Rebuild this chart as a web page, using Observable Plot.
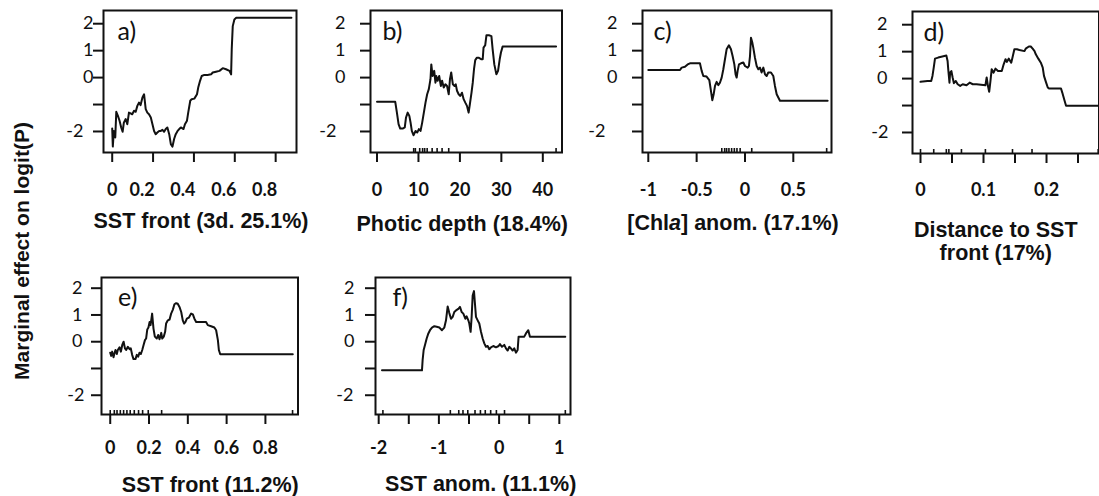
<!DOCTYPE html>
<html><head><meta charset="utf-8">
<script src="https://cdn.jsdelivr.net/npm/d3@7"></script>
<script src="https://cdn.jsdelivr.net/npm/@observablehq/plot@0.6"></script>
<style>
body{margin:0;background:#fff;overflow:hidden}
#chart{position:relative;width:1099px;height:496px;overflow:hidden;background:#fff}
#chart svg{position:absolute;overflow:visible}
#ytitle{position:absolute;left:22px;top:251px;transform:translate(-50%,-50%) rotate(-90deg);font-family:"Liberation Sans",Arial,sans-serif;font-weight:bold;font-size:21px;color:#111;white-space:nowrap}
</style></head><body><div id="chart"><div id="ytitle">Marginal effect on logit(P)</div></div>
<script>
// ---------------- data ----------------
const yTicks = [-2, -1, 0, 1, 2];
const yTickLabels = ["-2", "", "0", "1", "2"];

const panelLetters = ["a)", "b)", "c)", "d)", "e)", "f)"];
const xTitles = ["SST front (3d. 25.1%)", "Photic depth (18.4%)", "[Chla] anom. (17.1%)",
  "Distance to SST\nfront (17%)", "SST front (11.2%)", "SST anom. (11.1%)"];

const aTicks = [0, 0.2, 0.4, 0.6, 0.8];
const aTickLabels = ["0", "0.2", "0.4", "0.6", "0.8"];
const bTicks = [0, 10, 20, 30, 40];
const bTickLabels = ["0", "10", "20", "30", "40"];
const cTicks = [-1, -0.5, 0, 0.5];
const cTickLabels = ["-1", "-0.5", "0", "0.5"];
const dTicks = [0, 0.05, 0.1, 0.15, 0.2, 0.25];
const dTickLabels = ["0", "", "0.1", "", "0.2", ""];
const eTicks = [0, 0.2, 0.4, 0.6, 0.8];
const eTickLabels = ["0", "0.2", "0.4", "0.6", "0.8"];
const fTicks = [-2, -1.5, -1, -0.5, 0, 0.5, 1];
const fTickLabels = ["-2", "", "-1", "", "0", "", "1"];

const aLine = [[0,-1.89],[0.003,-2.56],[0.008,-1.98],[0.015,-2.22],[0.02,-1.27],[0.028,-1.42],[0.036,-1.6],[0.044,-1.85],[0.051,-2.01],[0.057,-1.67],[0.066,-1.54],[0.074,-1.73],[0.082,-1.3],[0.09,-1.33],[0.098,-1.36],[0.107,-1.23],[0.115,-1.27],[0.123,-1.05],[0.131,-0.93],[0.139,-1.02],[0.148,-0.74],[0.156,-0.62],[0.164,-1.17],[0.172,-1.3],[0.18,-1.36],[0.189,-1.48],[0.197,-1.73],[0.205,-1.98],[0.213,-2.1],[0.221,-2.04],[0.23,-1.98],[0.238,-1.98],[0.246,-1.94],[0.254,-2.01],[0.262,-1.91],[0.27,-1.85],[0.279,-2.1],[0.287,-2.47],[0.295,-2.56],[0.303,-2.28],[0.311,-2.1],[0.32,-1.98],[0.328,-1.91],[0.336,-1.85],[0.349,-1.91],[0.356,-1.73],[0.366,-1.6],[0.372,-1.3],[0.382,-0.86],[0.389,-0.8],[0.402,-0.78],[0.415,-0.62],[0.421,-0.37],[0.43,-0.12],[0.438,0.06],[0.451,0.1],[0.467,0.1],[0.484,0.12],[0.492,0.19],[0.508,0.22],[0.525,0.25],[0.541,0.35],[0.557,0.31],[0.574,0.25],[0.582,0.12],[0.585,1.05],[0.59,1.91],[0.598,2.16],[0.607,2.22],[0.877,2.22]];

const bLine = [[0,-0.9],[4.4,-0.9],[4.8,-1.3],[5.2,-1.73],[5.6,-1.89],[6.2,-1.89],[6.7,-1.85],[7.0,-1.48],[7.4,-1.3],[7.8,-1.42],[8.1,-1.67],[8.4,-1.98],[8.8,-2.14],[9.3,-1.98],[9.7,-2.04],[10.1,-1.91],[10.5,-1.98],[10.9,-1.67],[11.3,-1.3],[11.7,-0.93],[12.1,-0.62],[12.5,-0.43],[12.9,-0.06],[13.1,0.49],[13.4,0.06],[13.8,0.25],[14.1,-0.19],[14.3,0.06],[14.6,-0.12],[15.0,0.06],[15.4,-0.31],[15.7,-0.12],[16.1,-0.37],[16.5,-0.25],[16.9,-0.31],[17.3,-0.62],[17.6,-0.06],[17.9,0.19],[18.3,-0.25],[18.7,-0.31],[19.0,-0.25],[19.3,-0.49],[19.7,-0.62],[20.1,-0.68],[20.5,-0.56],[20.9,-0.8],[21.3,-0.93],[21.7,-1.05],[22.1,-1.3],[22.4,-0.99],[22.8,-0.56],[23.1,-0.19],[23.4,0.31],[23.7,0.65],[24.1,0.74],[24.5,0.74],[25.2,0.68],[25.5,0.68],[25.7,1.11],[26.1,1.2],[26.4,1.57],[27.0,1.57],[27.6,1.54],[27.9,1.05],[28.3,0.49],[28.8,0.12],[29.2,0.25],[29.6,0.68],[29.9,0.93],[30.3,1.15],[43.2,1.15]];

const cLine = [[-1,0.28],[-0.672,0.28],[-0.655,0.37],[-0.621,0.4],[-0.593,0.49],[-0.569,0.53],[-0.466,0.53],[-0.448,0.25],[-0.431,0.06],[-0.397,0.04],[-0.369,-0.09],[-0.352,-0.49],[-0.338,-0.84],[-0.324,-0.62],[-0.31,-0.31],[-0.293,-0.16],[-0.276,-0.28],[-0.259,-0.19],[-0.241,0],[-0.224,0.31],[-0.207,0.68],[-0.19,1.05],[-0.166,1.2],[-0.145,1.05],[-0.128,0.8],[-0.11,0.49],[-0.097,0.12],[-0.086,0],[-0.076,0.25],[-0.062,0.49],[-0.041,0.53],[-0.017,0.56],[0,0.43],[0.028,0.37],[0.041,0.43],[0.052,0.8],[0.062,1.48],[0.076,1.3],[0.086,1.11],[0.103,0.74],[0.121,0.43],[0.138,0.31],[0.155,0.37],[0.172,0.19],[0.19,0.37],[0.207,0.12],[0.224,0.06],[0.241,0.19],[0.269,0.19],[0.293,0.06],[0.31,-0.31],[0.328,-0.62],[0.345,-0.74],[0.362,-0.86],[0.855,-0.86]];

const dLine = [[0,-0.12],[0.011,-0.09],[0.017,-0.09],[0.019,0.1],[0.021,0.41],[0.023,0.74],[0.028,0.78],[0.033,0.81],[0.041,0.86],[0.043,0.65],[0.044,0.35],[0.046,-0.15],[0.047,0.22],[0.049,0.28],[0.051,0.04],[0.053,-0.17],[0.056,-0.09],[0.059,-0.21],[0.063,-0.27],[0.067,-0.21],[0.073,-0.25],[0.078,-0.15],[0.083,-0.21],[0.089,-0.21],[0.096,-0.23],[0.103,-0.25],[0.105,0.04],[0.107,-0.27],[0.109,-0.49],[0.111,-0.09],[0.113,0.35],[0.116,0.22],[0.119,0.37],[0.123,0.28],[0.129,0.28],[0.132,0.53],[0.135,0.72],[0.137,0.62],[0.14,0.74],[0.144,0.59],[0.146,0.78],[0.149,1.09],[0.153,1.09],[0.157,1.06],[0.165,1.02],[0.167,1.11],[0.172,1.19],[0.175,1.19],[0.178,1.11],[0.181,1.02],[0.183,0.9],[0.187,0.74],[0.191,0.59],[0.194,0.41],[0.196,0.1],[0.199,-0.12],[0.202,-0.33],[0.204,-0.37],[0.223,-0.37],[0.225,-0.52],[0.228,-0.77],[0.231,-1.01],[0.282,-1.01]];

const eLine = [[0,-0.41],[0.005,-0.53],[0.01,-0.37],[0.017,-0.58],[0.022,-0.43],[0.027,-0.31],[0.034,-0.46],[0.039,-0.31],[0.048,-0.21],[0.055,-0.37],[0.062,-0.12],[0.069,0],[0.076,-0.25],[0.082,-0.31],[0.091,-0.19],[0.1,-0.28],[0.106,-0.25],[0.113,-0.49],[0.12,-0.65],[0.13,-0.65],[0.137,-0.49],[0.144,-0.56],[0.151,-0.41],[0.158,-0.46],[0.165,-0.31],[0.172,-0.12],[0.179,0.06],[0.185,0.12],[0.191,0.46],[0.197,0.53],[0.203,0.74],[0.208,0.62],[0.216,1.05],[0.223,0.49],[0.23,0.19],[0.24,0.12],[0.247,0.25],[0.254,0.09],[0.263,0.33],[0.268,0.12],[0.276,0.19],[0.283,0.37],[0.288,0.68],[0.297,0.8],[0.306,0.83],[0.314,1.05],[0.323,1.2],[0.331,1.4],[0.34,1.44],[0.348,1.42],[0.357,1.3],[0.366,1.11],[0.374,0.8],[0.381,0.68],[0.388,0.74],[0.395,0.86],[0.405,0.9],[0.417,1.05],[0.426,1.02],[0.434,0.86],[0.443,0.74],[0.494,0.74],[0.503,0.62],[0.52,0.58],[0.537,0.53],[0.546,0.43],[0.555,0.06],[0.56,-0.31],[0.567,-0.47],[0.941,-0.47]];

const fLine = [[-1.945,-1.07],[-1.281,-1.07],[-1.27,-0.68],[-1.253,-0.31],[-1.231,-0.12],[-1.203,0.12],[-1.175,0.31],[-1.148,0.43],[-1.115,0.53],[-1.076,0.58],[-1.037,0.56],[-0.993,0.53],[-0.949,0.43],[-0.91,0.53],[-0.882,0.8],[-0.854,1.32],[-0.827,1.07],[-0.799,0.86],[-0.771,0.93],[-0.744,1.11],[-0.716,1.17],[-0.677,1.23],[-0.65,1.3],[-0.622,1.11],[-0.594,1.05],[-0.561,0.86],[-0.539,0.95],[-0.511,0.8],[-0.495,0.68],[-0.473,0.37],[-0.456,0.93],[-0.439,1.73],[-0.417,1.89],[-0.401,1.42],[-0.384,0.93],[-0.356,0.8],[-0.329,0.68],[-0.301,0.37],[-0.273,0.12],[-0.246,-0.06],[-0.218,-0.19],[-0.19,-0.16],[-0.163,-0.28],[-0.135,-0.21],[-0.096,-0.16],[-0.052,-0.21],[-0.008,-0.16],[0.014,-0.09],[0.048,-0.19],[0.086,-0.12],[0.114,-0.25],[0.142,-0.33],[0.169,-0.19],[0.197,-0.25],[0.225,-0.33],[0.252,-0.25],[0.28,-0.41],[0.308,-0.31],[0.324,0.19],[0.363,0.19],[0.418,0.19],[0.446,0.31],[0.485,0.43],[0.512,0.19],[1.099,0.19]];

const aRug = [];
const bRug = [8.85, 9.25, 10.3, 11.0, 11.5, 12.1, 13.3, 14.5, 15.7, 17.3, 43.2];
const cRug = [-0.24, -0.21, -0.19, -0.166, -0.138, -0.11, -0.083, -0.05, 0.07, 0.845];
const dRug = [0, 0.021, 0.041, 0.045, 0.065, 0.103, 0.146, 0.177, 0.282];
const eRug = [0, 0.021, 0.035, 0.052, 0.069, 0.086, 0.103, 0.124, 0.146, 0.167, 0.196, 0.265, 0.94];
const fRug = [-1.93, -0.81, -0.67, -0.6, -0.52, -0.4, -0.31, -0.23, -0.14, -0.045, 0.09, 1.1];

// ---------------- layout (positions / styles) ----------------
const row1Y = [-2.78, 2.49], row2Y = [-2.72, 2.40];
const panels = [
  {line: aLine, rug: aRug, ticks: aTicks, labels: aTickLabels, xd: [-0.0426, 0.902], yd: row1Y,
   box: {l: 102.5, t: 10, r: 295.5, b: 152}, yPos: 10, yNeg: 20, xDy: 31, xShift: -11, ldx: 14, ldy: 12, tdx: 1, tdy: 59},
  {line: bLine, rug: bRug, ticks: bTicks, labels: bTickLabels, xd: [-1.57, 44.63], yd: row1Y,
   box: {l: 370, t: 10, r: 561.5, b: 152}, yPos: 25, yNeg: 34, xDy: 31, xShift: 0, ldx: 12, ldy: 12, tdx: -4, tdy: 62},
  {line: cLine, rug: cRug, ticks: cTicks, labels: cTickLabels, xd: [-1.06, 0.895], yd: row1Y,
   box: {l: 642, t: 10, r: 831, b: 152}, yPos: 25, yNeg: 37, xDy: 31, xShift: 0, ldx: 11, ldy: 12, tdx: -4, tdy: 61},
  {line: dLine, rug: dRug, ticks: dTicks, labels: dTickLabels, xd: [-0.0127, 0.2833], yd: row1Y,
   box: {l: 911.5, t: 11, r: 1098, b: 153}, yPos: 25, yNeg: 24, xDy: 30, xShift: 0, ldx: 11, ldy: 11.4, tdx: -10, tdy: 67},
  {line: eLine, rug: eRug, ticks: eTicks, labels: eTickLabels, xd: [-0.045, 0.968], yd: row2Y,
   box: {l: 100.5, t: 276.5, r: 297, b: 413.5}, yPos: 19, yNeg: 17, xDy: 26.5, xShift: 0, ldx: 16.5, ldy: 11, tdx: 10.5, tdy: 60.5},
  {line: fLine, rug: fRug, ticks: fTicks, labels: fTickLabels, xd: [-2.053, 1.186], yd: row2Y,
   box: {l: 374.5, t: 276.5, r: 569.5, b: 413.5}, yPos: 21, yNeg: 22, xDy: 26.5, xShift: 0, ldx: 17, ldy: 11, tdx: 7.7, tdy: 60}
];

const ink = "#111";
const chart = document.getElementById("chart");
const mL = 60, mR = 1, mT = 2, mB = 120;

panels.forEach((p, i) => {
  const fw = p.box.r - p.box.l, fh = p.box.b - p.box.t;
  const xl = p.ticks.map((t, k) => ({t, s: p.labels[k]})).filter(d => d.s !== "");
  const yl = yTicks.map((t, k) => ({t, s: yTickLabels[k]})).filter(d => d.s !== "");
  const svg = Plot.plot({
    width: fw + mL + mR, height: fh + mT + mB,
    marginLeft: mL, marginRight: mR, marginTop: mT, marginBottom: mB,
    x: {domain: p.xd, label: null, axis: null}, y: {domain: p.yd, label: null, axis: null},
    style: {fontFamily: "Lato, 'Open Sans', sans-serif", fontSize: "18px", color: ink, background: "transparent", overflow: "visible"},
    marks: [
      Plot.ruleX(p.rug, {x: d => d, insetTop: fh - 4, stroke: ink, strokeWidth: 1.6}),
      Plot.line(p.line, {x: d => d[0], y: d => d[1], stroke: ink, strokeWidth: 2}),
      Plot.frame({stroke: ink, strokeWidth: 2}),
      // axis ticks (outside the frame)
      Plot.ruleY(yTicks, {y: d => d, insetRight: fw, insetLeft: -10, stroke: ink, strokeWidth: 2}),
      Plot.ruleX(p.ticks, {x: d => d, insetTop: fh + 1, insetBottom: -10, stroke: ink, strokeWidth: 2}),
      Plot.text(yl.filter(d => d.t >= 0), {y: "t", text: "s", frameAnchor: "left", textAnchor: "end", dx: -p.yPos, fontSize: 18, fill: ink}),
      Plot.text(yl.filter(d => d.t < 0), {y: "t", text: "s", frameAnchor: "left", textAnchor: "end", dx: -p.yNeg, fontSize: 18, fill: ink}),
      Plot.text(xl.filter(d => d.t === p.ticks[0]), {x: "t", text: "s", frameAnchor: "bottom", lineAnchor: "top", dy: p.xDy, fontWeight: "bold", fontSize: 18, fill: ink}),
      Plot.text(xl.filter(d => d.t !== p.ticks[0]), {x: "t", text: "s", frameAnchor: "bottom", lineAnchor: "top", dy: p.xDy, dx: p.xShift, fontWeight: "bold", fontSize: 18, fill: ink}),
      Plot.text([panelLetters[i]], {text: d => d, frameAnchor: "top-left", textAnchor: "start", lineAnchor: "top", dx: p.ldx, dy: p.ldy, fontSize: 25, fill: ink}),
      Plot.text([xTitles[i]], {text: d => d, frameAnchor: "bottom", textAnchor: "middle", lineAnchor: "top", dx: p.tdx, dy: p.tdy, fontSize: 21.5, fontWeight: "bold", fontFamily: "'Liberation Sans', Arial, sans-serif", lineHeight: 1.08, fill: ink})
    ]
  });
  d3.select(svg).selectAll("text").filter(function () { return this.textContent === "[Chla] anom. (17.1%)"; })
    .each(function () {
      const t = d3.select(this);
      t.text(null);
      t.append("tspan").text("[Chl");
      t.append("tspan").attr("font-style", "italic").text("a");
      t.append("tspan").text("] anom. (17.1%)");
    });
  svg.style.left = (p.box.l - mL) + "px";
  svg.style.top = (p.box.t - mT) + "px";
  chart.appendChild(svg);
});
</script>
</body></html>
